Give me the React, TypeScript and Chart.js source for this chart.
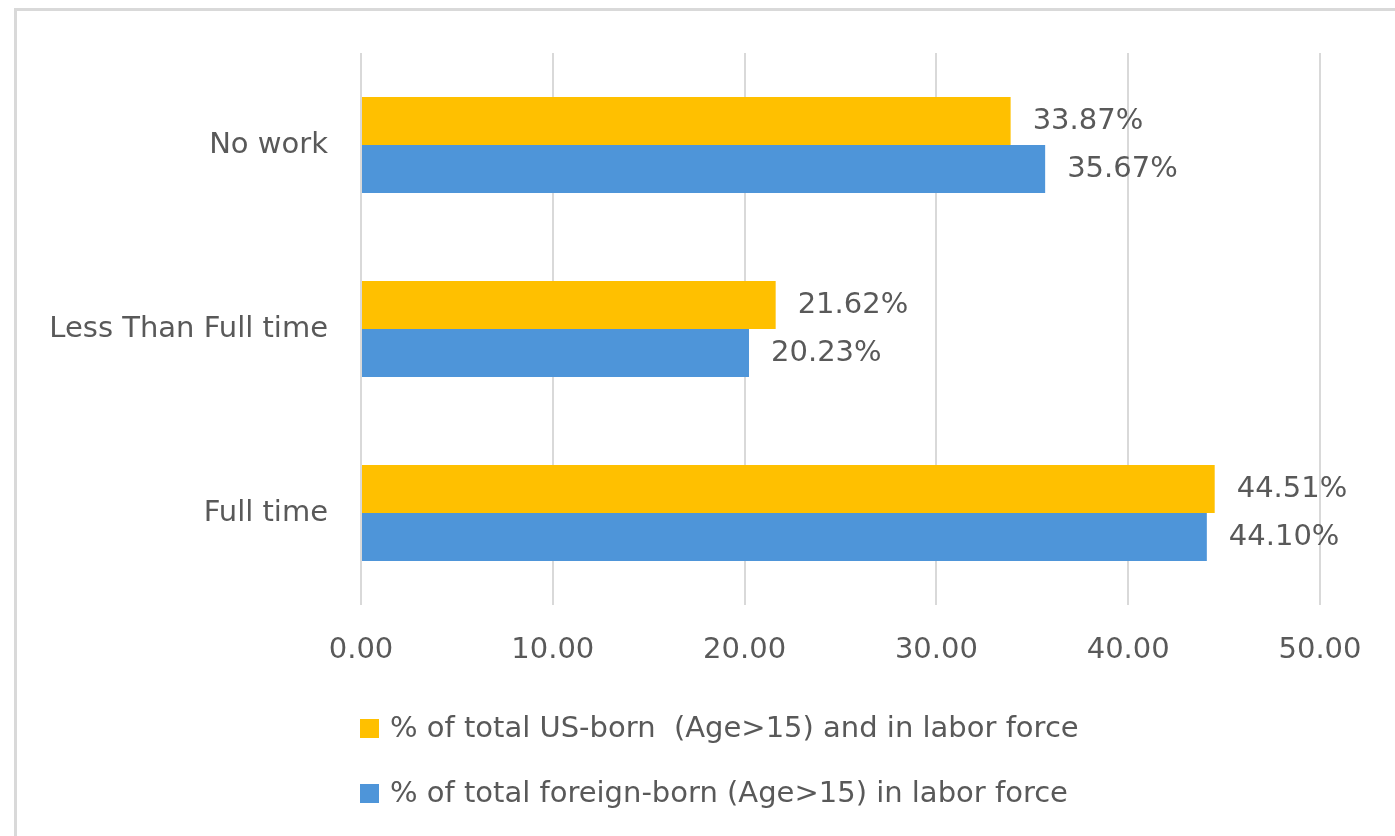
import React, { useEffect, useRef } from "react";
import { Chart, registerables } from "chart.js";

Chart.register(...registerables);

const categories = ["No work", "Less Than Full time", "Full time"];
const usBorn = [33.87, 21.62, 44.51];
const foreignBorn = [35.67, 20.23, 44.1];
const seriesNames = [
  "% of total US-born  (Age>15) and in labor force",
  "% of total foreign-born (Age>15) in labor force",
];
const seriesColors = ["#FFC000", "#4E95D9"];
const xTicks = [0, 10, 20, 30, 40, 50];

const FONT = "'DejaVu Sans', sans-serif";
const TEXT = "#595959";
const GRID = "#D9D9D9";

const valueLabels = {
  id: "valueLabels",
  afterDatasetsDraw(chart: any) {
    const ctx = chart.ctx;
    ctx.save();
    ctx.font = `29px ${FONT}`;
    ctx.fillStyle = TEXT;
    ctx.textAlign = "left";
    ctx.textBaseline = "middle";
    chart.data.datasets.forEach((ds: any, i: number) => {
      const meta = chart.getDatasetMeta(i);
      meta.data.forEach((bar: any, j: number) => {
        const v = ds.data[j] as number;
        ctx.fillText(v.toFixed(2) + "%", bar.x + 22, bar.y);
      });
    });
    ctx.restore();
  },
};

const bottomLegend = {
  id: "bottomLegend",
  afterDraw(chart: any) {
    const ctx = chart.ctx;
    const area = chart.chartArea;
    ctx.save();
    ctx.font = `29px ${FONT}`;
    ctx.textAlign = "left";
    ctx.textBaseline = "middle";
    chart.data.datasets.forEach((ds: any, i: number) => {
      const cy = area.bottom + 123 + i * 65;
      const x = area.left - 1;
      ctx.fillStyle = ds.backgroundColor;
      ctx.fillRect(x, cy - 9, 19, 19);
      ctx.fillStyle = TEXT;
      ctx.fillText(ds.label, x + 30, cy + 1);
    });
    ctx.restore();
  },
};

export default function App() {
  const ref = useRef<HTMLCanvasElement | null>(null);

  useEffect(() => {
    if (!ref.current) return;
    const chart = new Chart(ref.current, {
      type: "bar",
      data: {
        labels: categories,
        datasets: [
          {
            label: seriesNames[0],
            data: usBorn,
            backgroundColor: seriesColors[0],
            barPercentage: 1,
            categoryPercentage: 0.522,
          },
          {
            label: seriesNames[1],
            data: foreignBorn,
            backgroundColor: seriesColors[1],
            barPercentage: 1,
            categoryPercentage: 0.522,
          },
        ],
      },
      options: {
        indexAxis: "y",
        animation: false,
        responsive: false,
        devicePixelRatio: 1,
        layout: { padding: { top: 53, right: 75, left: 0, bottom: 0 } },
        plugins: {
          legend: { display: false },
          tooltip: { enabled: false },
        },
        scales: {
          x: {
            min: 0,
            max: 50,
            afterBuildTicks(scale: any) {
              scale.ticks = xTicks.map((v) => ({ value: v }));
            },
            afterFit(scale: any) {
              scale.height = 231;
            },
            grid: { color: GRID, lineWidth: 2, drawTicks: false },
            border: { display: false },
            ticks: {
              color: TEXT,
              font: { family: FONT, size: 29 },
              padding: 28,
              callback: (v: any) => Number(v).toFixed(2),
            },
          },
          y: {
            afterFit(scale: any) {
              scale.width = 361;
            },
            grid: { display: false, drawTicks: false },
            border: { display: false },
            ticks: {
              color: TEXT,
              font: { family: FONT, size: 29 },
              padding: 33,
            },
          },
        },
      },
      plugins: [valueLabels, bottomLegend],
    });
    return () => chart.destroy();
  }, []);

  return (
    <div
      style={{
        position: "fixed",
        left: 0,
        top: 0,
        width: 1395,
        height: 836,
        overflow: "hidden",
        background: "#fff",
      }}
    >
      <div
        style={{
          position: "absolute",
          left: 14,
          top: 8,
          width: 2000,
          height: 2000,
          borderLeft: `3px solid ${GRID}`,
          borderTop: `3px solid ${GRID}`,
        }}
      />
      <canvas
        ref={ref}
        width={1395}
        height={836}
        style={{ position: "absolute", left: 0, top: 0, width: 1395, height: 836 }}
      />
    </div>
  );
}
